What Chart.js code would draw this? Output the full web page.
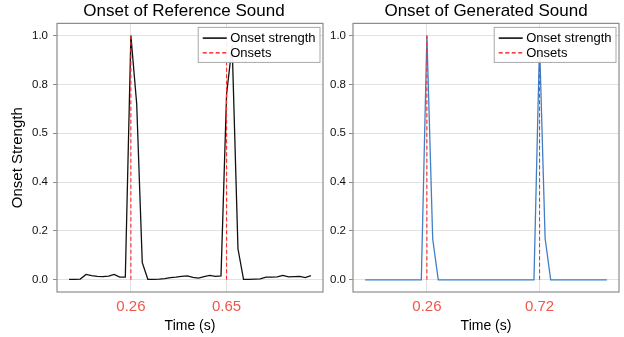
<!DOCTYPE html>
<html>
<head>
<meta charset="utf-8">
<script src="https://cdn.jsdelivr.net/npm/chart.js@4.4.0/dist/chart.umd.min.js"></script>
<style>
    html, body { margin: 0; padding: 0; background: #ffffff; }
    #wrap { position: relative; width: 624px; height: 337px; }
    #refChart { position: absolute; left: 0; top: 0; }
    #genChart { position: absolute; left: 326px; top: 0; }
</style>
</head>
<body>
<div id="wrap">
    <canvas id="refChart" width="326" height="337"></canvas>
    <canvas id="genChart" width="298" height="337"></canvas>
</div>
<script>
// frame times in seconds (hop 512 @ 22050 Hz)
const frameTimes = [0.000, 0.023, 0.046, 0.070, 0.093, 0.116, 0.139, 0.163, 0.186, 0.209,
                    0.232, 0.255, 0.279, 0.302, 0.325, 0.348, 0.372, 0.395, 0.418, 0.441,
                    0.464, 0.488, 0.511, 0.534, 0.557, 0.580, 0.604, 0.627, 0.650, 0.673,
                    0.697, 0.720, 0.743, 0.766, 0.789, 0.813, 0.836, 0.859, 0.882, 0.906,
                    0.929, 0.952, 0.975, 0.998];

const refStrength = [0.002, 0.002, 0.003, 0.022, 0.017, 0.014, 0.013, 0.015, 0.022, 0.011,
                     0.011, 1.000, 0.720, 0.070, 0.002, 0.002, 0.003, 0.005, 0.009, 0.011,
                     0.014, 0.016, 0.010, 0.007, 0.013, 0.018, 0.014, 0.016, 0.760, 0.960,
                     0.127, 0.002, 0.002, 0.003, 0.004, 0.011, 0.011, 0.012, 0.018, 0.012,
                     0.013, 0.014, 0.009, 0.017];

const genStrength = [0, 0, 0, 0, 0, 0, 0, 0, 0, 0,
                     0, 1.000, 0.167, 0, 0, 0, 0, 0, 0, 0,
                     0, 0, 0, 0, 0, 0, 0, 0, 0, 0,
                     0, 0.970, 0.170, 0, 0, 0, 0, 0, 0, 0,
                     0, 0, 0, 0];

const refOnsets = [0.255, 0.650];
const genOnsets = [0.255, 0.720];
const refOnsetLabels = ['0.26', '0.65'];
const genOnsetLabels = ['0.26', '0.72'];

const yTickValues = [0, 0.2, 0.4, 0.6, 0.8, 1.0];
const yTickLabels = ['0.0', '0.2', '0.4', '0.5', '0.8', '1.0'];

const legendLabels = ['Onset strength', 'Onsets'];

const FONT = "'Liberation Sans', Arial, Helvetica, sans-serif";

// draws the axes box and the matplotlib-like legend on top of the lines
const frameAndLegend = {
    id: 'frameAndLegend',
    afterLayout(chart, args, opts) {
        // nudge the title sideways like in the original figure
        if (chart.titleBlock && opts.titleShift) {
            chart.titleBlock.left += opts.titleShift;
            chart.titleBlock.right += opts.titleShift;
        }
    },
    afterDatasetsDraw(chart) {
        const ctx = chart.ctx;
        const a = chart.chartArea;
        ctx.save();
        ctx.strokeStyle = '#8c8c8c';
        ctx.lineWidth = 1.2;
        ctx.strokeRect(a.left, a.top, a.right - a.left, a.bottom - a.top);

        ctx.font = '13px ' + FONT;
        const textW = ctx.measureText(legendLabels[0]).width;
        const boxW = 4.5 + 24 + 3.5 + textW + 4.5;
        const boxH = 35;
        const bx = a.right - 3 - boxW;
        const by = a.top + 4;
        ctx.fillStyle = 'rgba(255,255,255,0.92)';
        ctx.fillRect(bx, by, boxW, boxH);
        ctx.strokeStyle = '#a8a8a8';
        ctx.lineWidth = 1;
        ctx.strokeRect(bx, by, boxW, boxH);

        const rows = [by + 10.7, by + 25.4];
        const lx = bx + 4.5;
        // solid black sample
        ctx.strokeStyle = '#000000';
        ctx.lineWidth = 1.5;
        ctx.beginPath();
        ctx.moveTo(lx, rows[0]);
        ctx.lineTo(lx + 24, rows[0]);
        ctx.stroke();
        // dashed red sample
        ctx.strokeStyle = '#ff0000';
        ctx.lineWidth = 1.2;
        ctx.setLineDash([4, 2.5]);
        ctx.beginPath();
        ctx.moveTo(lx, rows[1]);
        ctx.lineTo(lx + 24, rows[1]);
        ctx.stroke();
        ctx.setLineDash([]);

        ctx.fillStyle = '#000000';
        ctx.textBaseline = 'middle';
        ctx.textAlign = 'left';
        ctx.fillText(legendLabels[0], lx + 27.5, rows[0] + 0.5);
        ctx.fillText(legendLabels[1], lx + 27.5, rows[1] + 0.5);
        ctx.restore();
    }
};

function onsetDatasets(onsets) {
    return onsets.map(t => ({
        data: [{x: t, y: 0}, {x: t, y: 1}],
        borderColor: '#ff2a2a',
        borderWidth: 1.1,
        borderDash: [4, 2.5],
        pointRadius: 0,
        order: 0
    }));
}

function makeChart(canvasId, cfg) {
    const ctx = document.getElementById(canvasId).getContext('2d');
    const points = frameTimes.map((t, i) => ({x: t, y: cfg.values[i]}));

    return new Chart(ctx, {
        type: 'line',
        data: {
            datasets: [{
                data: points,
                borderColor: cfg.lineColor,
                borderWidth: 1.3,
                pointRadius: 0,
                tension: 0,
                order: 1
            }].concat(onsetDatasets(cfg.onsets))
        },
        options: {
            responsive: false,
            animation: false,
            devicePixelRatio: 1,
            layout: { padding: { left: 0, right: cfg.padRight, top: 0, bottom: 0 } },
            scales: {
                x: {
                    type: 'linear',
                    min: -0.05,
                    max: 1.048,
                    afterBuildTicks: scale => {
                        scale.ticks = cfg.onsets.map(v => ({value: v}));
                    },
                    afterFit: scale => { scale.height = 45; },
                    ticks: {
                        autoSkip: false,
                        maxRotation: 0,
                        padding: 6,
                        color: '#f0564b',
                        font: { family: FONT, size: 15 },
                        callback: (value, index) => cfg.onsetLabels[index]
                    },
                    grid: { color: '#e2e2e2', lineWidth: 1, drawTicks: false },
                    border: { display: false },
                    title: {
                        display: true,
                        text: 'Time (s)',
                        color: '#000000',
                        font: { family: FONT, size: 14 },
                        padding: { top: 0, bottom: 2 }
                    }
                },
                y: {
                    min: -0.05,
                    max: 1.05,
                    afterBuildTicks: scale => {
                        scale.ticks = yTickValues.map(v => ({value: v}));
                    },
                    afterFit: scale => { scale.width = cfg.yWidth; },
                    ticks: {
                        autoSkip: false,
                        padding: cfg.yPad,
                        color: '#111111',
                        font: { family: FONT, size: 11.5 },
                        callback: (value, index) => yTickLabels[index]
                    },
                    grid: { color: '#e2e2e2', lineWidth: 1, drawTicks: true, tickLength: 4, tickColor: '#8c8c8c' },
                    border: { display: false },
                    title: {
                        display: cfg.showYTitle,
                        text: 'Onset Strength',
                        color: '#000000',
                        font: { family: FONT, size: 15 },
                        padding: { top: 9, bottom: 0 }
                    }
                }
            },
            plugins: {
                legend: { display: false },
                tooltip: { enabled: false },
                frameAndLegend: { titleShift: cfg.titleShift },
                title: {
                    display: true,
                    text: cfg.title,
                    fullSize: false,
                    color: '#000000',
                    font: { family: FONT, size: 17, weight: 'normal' },
                    padding: { top: 1, bottom: 2 }
                }
            }
        },
        plugins: [frameAndLegend]
    });
}

makeChart('refChart', {
    title: 'Onset of Reference Sound',
    values: refStrength,
    onsets: refOnsets,
    onsetLabels: refOnsetLabels,
    lineColor: '#111111',
    padRight: 3,
    yWidth: 57,
    yPad: 5,
    titleShift: -6,
    showYTitle: true
});

makeChart('genChart', {
    title: 'Onset of Generated Sound',
    values: genStrength,
    onsets: genOnsets,
    onsetLabels: genOnsetLabels,
    lineColor: '#3f7fc6',
    padRight: 5,
    yWidth: 27,
    yPad: 3,
    titleShift: 0,
    showYTitle: false
});
</script>
</body>
</html>
